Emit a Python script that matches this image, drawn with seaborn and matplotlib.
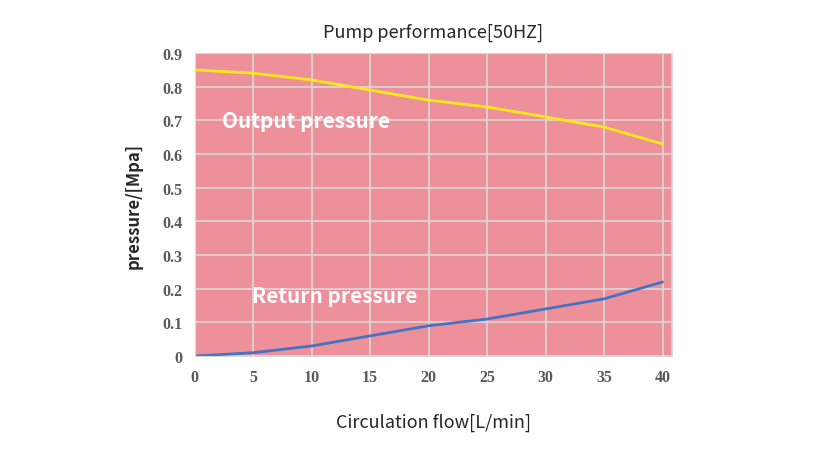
import pandas as pd
import matplotlib.pyplot as plt
import seaborn as sns

# Values
flow = [0, 5, 10, 15, 20, 25, 30, 35, 40]
output_pressure = [0.85, 0.84, 0.82, 0.79, 0.76, 0.74, 0.71, 0.68, 0.63]
return_pressure = [0.0, 0.01, 0.03, 0.06, 0.09, 0.11, 0.14, 0.17, 0.22]

df = pd.DataFrame({'flow': flow, 'output': output_pressure, 'return': return_pressure})

sns.set_style('white')
plt.rcParams['font.family'] = ['Noto Sans CJK SC', 'DejaVu Sans']

fig = plt.figure(figsize=(8.25, 4.52), dpi=100)
ax = fig.add_axes([0.236, 0.21, 0.578, 0.6705])
ax.set_facecolor('#EE9099')

sns.lineplot(data=df, x='flow', y='output', color='#FFE81A', linewidth=2, ax=ax)
sns.lineplot(data=df, x='flow', y='return', color='#4472C4', linewidth=2, ax=ax)

ax.set_xlim(0, 40.77)
ax.set_ylim(0, 0.9)
ax.set_xticks(range(0, 41, 5))
ax.set_yticks([i / 10 for i in range(10)])
ax.set_yticklabels(['0'] + [f'{i / 10:.1f}' for i in range(1, 10)])
ax.grid(True, color='#D9D9D9', linewidth=1.2)
ax.axvline(40.77, color='#D9D9D9', linewidth=1.2)
for s in ax.spines.values():
    s.set_color('#D9D9D9')
ax.tick_params(length=0, pad=9)
for lab in ax.get_xticklabels() + ax.get_yticklabels():
    lab.set_family('Liberation Serif')
    lab.set_fontweight('bold')
    lab.set_color('#595959')
    lab.set_fontsize(11.5)

ax.set_xlabel('Circulation flow[L/min]', fontsize=13, labelpad=20)
ax.set_ylabel('pressure/[Mpa]', fontsize=12, fontweight='bold', labelpad=14)
ax.set_title('Pump performance[50HZ]', fontsize=13, fontweight='medium', pad=12)

ax.text(2.3, 0.68, 'Output pressure', color='white', fontsize=15, fontweight='bold')
ax.text(4.9, 0.16, 'Return pressure', color='white', fontsize=15, fontweight='bold')

plt.savefig('out.png', dpi=100)
